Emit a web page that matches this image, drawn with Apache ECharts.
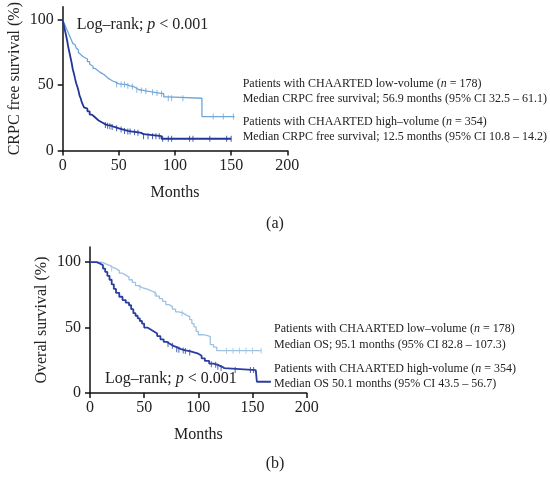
<!DOCTYPE html>
<html><head><meta charset="utf-8">
<script src="https://cdn.jsdelivr.net/npm/echarts@6/dist/echarts.min.js"></script>
<style>html,body{margin:0;padding:0;background:#fff}#c{width:550px;height:477px}</style>
</head><body><div id="c"></div>
<script>
// Panel (a): CRPC free survival, Kaplan-Meier step points [month, %]
const crpcLow = [[0,100],[1,98],[2,96],[3,94],[4,92],[5,90],[6,88],[7,86],[8,84],[9,82],[10,81],[11,80],[12,78.5],[13,77],[14,75],[15,73.5],[16,72.5],[17,72],[18,71],[20,70],[22,68],[24,66],[25,64.5],[27,62.8],[29,61.5],[31,60],[33,59],[35,58],[37,56.5],[39,55],[41,54],[43,53],[45,52.3],[47,51],[50,50.5],[57,49.5],[60,49],[63,48],[65,46.5],[68,46],[72,45.5],[75,45],[78,44.5],[82,44],[86,43.5],[90,41],[93,40],[124,26],[153,26]];
const crpcLowCens = [[48,50.5],[52,50.5],[55,50.5],[58,49.5],[62,49],[66,46.5],[70,46],[74,45.5],[80,44.5],[84,44],[88,43.5],[94,40],[97,40],[107,40],[134,26],[143,26],[152,26]];
const crpcHigh = [[0,100],[1,96],[2,92],[3,88],[4,84],[5,79],[6,75],[7,71],[8,67],[9,62],[10,59],[11,55],[12,51.5],[13,49],[14,46],[15,42],[16,40],[17,37],[18,35],[19,33],[20,32],[22,30],[24,27.5],[26,26],[28,24.5],[30,23],[32,22],[34,21],[36,20],[38,19.5],[40,19],[43,18],[46,17],[50,16],[54,15],[58,14.5],[62,14],[66,13.5],[70,12.5],[72,11],[88,9],[150,9]];
const crpcHighCens = [[38,19.5],[40,19],[42,18.5],[44,18],[48,17],[52,16],[55,15],[58,14.5],[60,14.5],[64,14],[67,13.5],[72,11],[76,11],[80,11],[83,11],[86,11],[89,9],[94,9],[97,9],[113,9],[116,9],[131,9],[146,9],[150,9]];
// Panel (b): overall survival
const osLow = [[0,100],[5,100],[9,99.5],[12,98.5],[15,97.5],[18,96],[21,95],[24,93.5],[27,91.5],[30,90],[33,88.5],[36,86.5],[39,84.5],[42,82],[45,80.5],[48,79.5],[52,78.5],[55,77.5],[58,76],[61,74],[64,72],[67,70],[70,67.5],[73,66],[76,64],[79,62],[82,61],[86,59.5],[89,58.3],[92,56],[94,53],[96,50.5],[98,47],[100,44.5],[104,44],[108,43],[111,37],[114,35],[117,32.3],[158,32.3]];
const osLowCens = [[20,95],[46,80.5],[60,76],[85,61],[126,32.3],[132,32.3],[138,32.3],[144,32.3],[150,32.3],[158,32.3]];
const osHigh = [[0,100],[3,100],[6,99],[9,97.5],[12,95],[14,92.5],[16,89.5],[18,86.5],[20,83],[22,79.5],[24,76.5],[27,73.5],[30,71],[33,69],[36,67],[38,64],[40,61],[42,59],[44,57],[46,55],[48,53],[50,50],[53,48.5],[56,47],[59,45.5],[62,43.5],[65,41],[68,39],[71,37.5],[74,36],[77,35],[80,33.5],[84,32.5],[88,32],[92,31],[96,30],[100,28.5],[103,26.5],[106,24.5],[110,22.5],[114,21.5],[118,20],[122,19],[124,17.5],[153,17.5],[154,8.6],[167,8.6]];
const osHighCens = [[72,37.5],[76,36],[80,33.5],[82,33],[86,32.5],[88,32],[92,31],[112,22],[116,21.5],[118,20],[121,19],[134,17.5],[148,17.5],[151,17.5]];
const xTicks = [0,50,100,150,200];
const yTicks = [0,50,100];

const LIGHT_A = '#6fa6d8', DARK_A = '#22369a', LIGHT_B = '#9cc2e4', DARK_B = '#283f9f';
const FONT = '"Liberation Serif","DejaVu Serif",serif';

function xAx(gi){return {type:'value',gridIndex:gi,min:0,max:200,interval:50,name:'Months',nameLocation:'middle',nameGap:34,
  nameTextStyle:{fontFamily:FONT,fontSize:16,color:'#222'},
  axisLine:{lineStyle:{color:'#111',width:1.5}},axisTick:{length:5,lineStyle:{color:'#111',width:1.5}},
  axisLabel:{fontFamily:FONT,fontSize:16,color:'#222',margin:7},splitLine:{show:false}};}
function yAx(gi,max,name,gap){return {type:'value',gridIndex:gi,min:0,max:max,name:name,nameLocation:'middle',nameGap:gap,nameRotate:90,
  nameTextStyle:{fontFamily:FONT,fontSize:16,color:'#222'},
  axisLine:{show:true,lineStyle:{color:'#111',width:1.5}},axisTick:{show:true,length:5,customValues:yTicks,lineStyle:{color:'#111',width:1.5}},
  axisLabel:{fontFamily:FONT,fontSize:16,color:'#222',margin:9,customValues:yTicks},splitLine:{show:false}};}
function line(data,color,xi,w){return {type:'line',xAxisIndex:xi,yAxisIndex:xi,data:data,step:'end',symbol:'none',lineStyle:{color:color,width:w},silent:true,animation:false};}
function cens(data,color,xi){return {type:'scatter',xAxisIndex:xi,yAxisIndex:xi,data:data,symbol:'rect',symbolSize:[1,6],itemStyle:{color:color},silent:true,animation:false};}
function txt(x,y,text,size,rich,align){return {type:'text',x:x,y:y,silent:true,style:{text:text,fontFamily:FONT,fontSize:size,fill:'#222',textVerticalAlign:'middle',textAlign:align||'left',
  rich:{i:{fontStyle:'italic',fontFamily:FONT,fontSize:size,fill:'#222'}}}};}

const chart = echarts.init(document.getElementById('c'),null,{renderer:'canvas'});
chart.setOption({
  animation:false,
  grid:[{left:62.7,top:0.5,width:224.6,height:150},{left:90,top:247,width:216.7,height:146}],
  xAxis:[xAx(0),xAx(1)],
  yAxis:[yAx(0,110,'CRPC free survival (%)',40),yAx(1,111.5,'Overal survival (%)',40)],
  series:[
    line(crpcLow,LIGHT_A,0,1.3),cens(crpcLowCens,LIGHT_A,0),
    line(crpcHigh,DARK_A,0,1.8),cens(crpcHighCens,DARK_A,0),
    line(osLow,LIGHT_B,1,1.3),cens(osLowCens,LIGHT_B,1),
    line(osHigh,DARK_B,1,1.8),cens(osHighCens,DARK_B,1)
  ],
  graphic:[
    txt(76.7,25,'Log–rank; {i|p} < 0.001',16),
    txt(242.7,84,'Patients with CHAARTED low-volume ({i|n} = 178)',12),
    txt(242.7,99.3,'Median CRPC free survival; 56.9 months (95% CI 32.5 – 61.1)',12),
    txt(242.7,121.7,'Patients with CHAARTED high–volume ({i|n} = 354)',12),
    txt(242.7,136.7,'Median CRPC free survival; 12.5 months (95% CI 10.8 – 14.2)',12),
    txt(275,224,'(a)',16,null,'center'),
    txt(105,379,'Log–rank; {i|p} < 0.001',16),
    txt(274,329.3,'Patients with CHAARTED low–volume ({i|n} = 178)',12),
    txt(274,345,'Median OS; 95.1 months (95% CI 82.8 – 107.3)',12),
    txt(274,369.3,'Patients with CHAARTED high-volume ({i|n} = 354)',12),
    txt(274,384.3,'Median OS 50.1 months (95% CI 43.5 – 56.7)',12),
    txt(275,464,'(b)',16,null,'center')
  ]
});
</script></body></html>
